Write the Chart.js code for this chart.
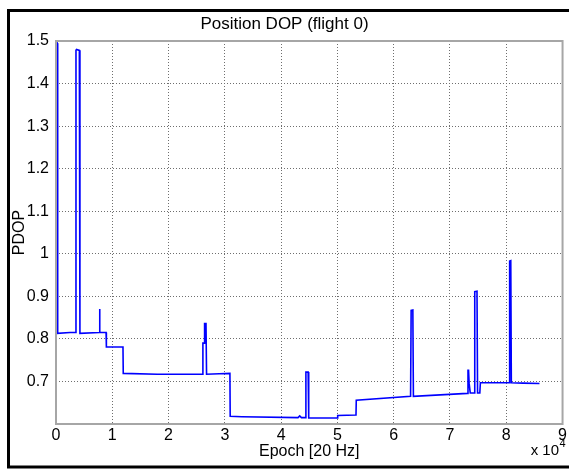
<!DOCTYPE html>
<html>
<head>
<meta charset="utf-8">
<script src="https://cdn.jsdelivr.net/npm/chart.js@4.4.1/dist/chart.umd.min.js"></script>
<style>
  html, body { margin: 0; padding: 0; background: #fff; }
  #dop { display: block; }
</style>
</head>
<body>
<canvas id="dop" width="569" height="471"></canvas>
<script>
// PDOP over the flight, sampled at 20 Hz (epoch index)
const epochs = [
  0, 250, 300, 2500, 3500, 3550, 3650, 4150, 4250, 7700, 7750, 7800,
  8900, 8950, 11900, 11950, 18000, 26000, 26100, 26300, 26400, 26650,
  26750, 29000, 30900, 30950, 33000, 43000, 43300, 43600, 44300, 44400,
  44800, 44900, 50000, 50050, 53300, 53350, 63000, 63100, 63400, 63500,
  73100, 73200, 73300, 73400, 73600, 74300, 74400, 74800, 74900, 75300,
  75400, 80500, 80600, 80800, 80900, 83000, 85900
];
const pdop = [
  1.5, 1.495, 0.813, 0.815, 0.815, 1.478, 1.48, 1.478, 0.813, 0.815, 0.870, 0.815,
  0.815, 0.781, 0.781, 0.719, 0.717, 0.717, 0.790, 0.790, 0.836, 0.836,
  0.717, 0.718, 0.719, 0.618, 0.617, 0.615, 0.619, 0.615, 0.615, 0.722,
  0.722, 0.614, 0.614, 0.620, 0.621, 0.656, 0.665, 0.867, 0.868, 0.665,
  0.672, 0.726, 0.726, 0.696, 0.673, 0.673, 0.911, 0.912, 0.673, 0.673,
  0.697, 0.697, 0.983, 0.984, 0.697, 0.696, 0.695
];
const xTicks = [0, 1, 2, 3, 4, 5, 6, 7, 8, 9];        // x 10^4
const yTicks = [0.7, 0.8, 0.9, 1, 1.1, 1.2, 1.3, 1.4, 1.5];

const points = epochs.map((e, i) => ({ x: e, y: pdop[i] }));
const font = 'Arial, "Liberation Sans", sans-serif';

// figure frame, axes box, title and the x10^4 multiplier
const decor = {
  id: 'decor',
  afterDraw(chart) {
    const c = chart.ctx, a = chart.chartArea;
    c.save();
    c.strokeStyle = '#a6a6a6';
    c.lineWidth = 2;
    c.strokeRect(a.left, a.top, a.right - a.left, a.bottom - a.top);

    c.strokeStyle = '#000';
    c.lineWidth = 3;
    c.strokeRect(8.5, 10.5, 700, 456.5);

    c.fillStyle = '#000';
    c.textBaseline = 'middle';
    c.textAlign = 'center';
    c.font = '17px ' + font;
    c.fillText('Position DOP (flight 0)', 284.5, 24);

    c.textBaseline = 'alphabetic';
    c.textAlign = 'right';
    c.font = '15px ' + font;
    c.fillText('x 10', 559, 455);
    c.textAlign = 'left';
    c.font = '11px ' + font;
    c.fillText('4', 559.5, 447);
    c.restore();
  }
};

new Chart(document.getElementById('dop'), {
  type: 'line',
  data: {
    datasets: [{
      data: points,
      borderColor: '#0000ff',
      borderWidth: 1.6,
      pointRadius: 0,
      tension: 0,
      fill: false
    }]
  },
  options: {
    responsive: false,
    animation: false,
    layout: { padding: { top: 41, right: 6, left: 0, bottom: 0 } },
    plugins: { legend: { display: false }, title: { display: false }, tooltip: { enabled: false } },
    scales: {
      x: {
        type: 'linear',
        min: 0,
        max: 90000,
        afterFit: s => { s.height = 47; },
        afterBuildTicks: s => { s.ticks = xTicks.map(v => ({ value: v * 1e4 })); },
        ticks: {
          color: '#000',
          padding: 2,
          font: { family: font, size: 16 },
          callback: v => String(v / 1e4)
        },
        grid: { color: '#6e6e6e', lineWidth: 1, drawTicks: false },
        border: { display: false, dash: [1, 2] },
        title: {
          display: true,
          text: 'Epoch [20 Hz]',
          color: '#000',
          font: { family: font, size: 16 },
          padding: { top: 0, bottom: 10 }
        }
      },
      y: {
        min: 0.6,
        max: 1.5,
        afterFit: s => { s.width = 56; },
        afterBuildTicks: s => { s.ticks = yTicks.map(v => ({ value: v })); },
        ticks: {
          color: '#000',
          padding: 7,
          font: { family: font, size: 16 },
          callback: v => String(+v.toFixed(1))
        },
        grid: { color: '#6e6e6e', lineWidth: 1, drawTicks: false },
        border: { display: false, dash: [1, 2] },
        title: {
          display: true,
          text: 'PDOP',
          color: '#000',
          font: { family: font, size: 16 },
          padding: { top: 10, bottom: 0 }
        }
      }
    }
  },
  plugins: [decor]
});
</script>
</body>
</html>
